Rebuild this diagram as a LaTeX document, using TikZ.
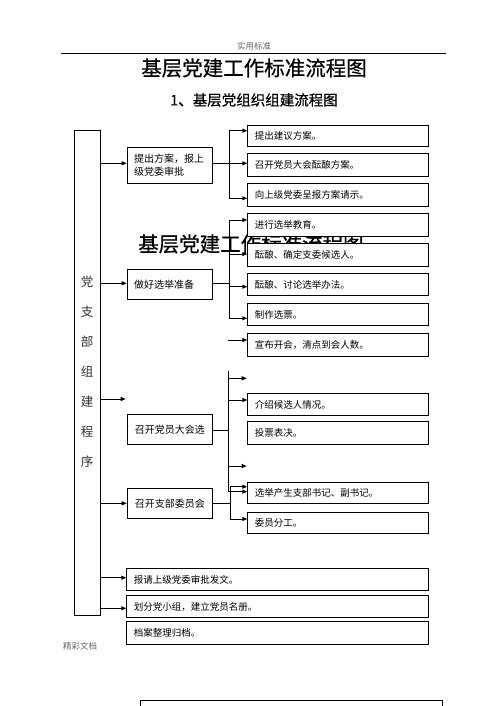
\documentclass[tikz,border=0pt]{standalone}
\usepackage{fontspec}
\setmainfont{Noto Sans CJK SC}
\newfontfamily\titlefont{Noto Sans CJK SC}[FakeBold=0.5]
\usetikzlibrary{arrows.meta}
\begin{document}
\begin{tikzpicture}[x=1pt,y=-1pt,
  box/.style={draw=black,line width=0.9pt,fill=white,anchor=north west,inner xsep=7pt,inner ysep=0pt,align=left,font=\fontsize{9.5}{12}\selectfont},
  mbox/.style={box,font=\fontsize{10}{13.5}\selectfont,minimum width=85.6pt,text width=71.6pt},
  rbox/.style={box,minimum width=181pt,text width=167pt},
  sbox/.style={box,minimum width=302pt,text width=288pt},
  arr/.style={line width=0.9pt,-{Triangle[length=5pt,width=4pt]}},
  ln/.style={line width=0.9pt},
  small/.style={font=\fontsize{8.5}{10}\selectfont,text=black!60}
]
\clip (0,0) rectangle (500,706);
\fill[white] (0,0) rectangle (500,706);
% header
\node[small] (hdr) at (254,46) {实用标准};
\draw[line width=0.8pt] (61,53) -- (446,53);
\node[font=\titlefont\fontsize{20.5}{22}\selectfont] (title) at (254,68) {基层党建工作标准流程图};
\node[font=\titlefont\fontsize{14.5}{16}\selectfont] (sub) at (254,100) {1、基层党组织组建流程图};
% watermark title (behind boxes)
\node[font=\titlefont\fontsize{20.5}{22}\selectfont,anchor=west,inner sep=0pt] (wm) at (138,244) {基层党建工作标准流程图};
% left tall box
\draw[line width=0.9pt] (74,130.7) rectangle (100.5,615);
\node[draw=none,minimum width=26.5pt,minimum height=484.3pt,anchor=north west,inner sep=0pt] (L) at (74,130.7) {};
\foreach \c [count=\i from 0] in {党,支,部,组,建,程,序}
  \node[font=\fontsize{12.5}{14}\selectfont,text=black!80] (lc\i) at (87.2,282+30*\i) {\c};
% middle boxes
\node[mbox,minimum height=36pt] (A) at (126.7,146.7) {提出方案，报上\\级党委审批};
\node[mbox,minimum height=29.7pt] (B) at (126.7,269.3) {做好选举准备};
\node[mbox,minimum height=30pt,align=center] (C) at (126.7,414.3) {召开党员大会选};
\node[mbox,minimum height=30pt,align=center] (D) at (126.7,488.3) {召开支部委员会};
% right boxes
\node[rbox,minimum height=21pt] (r1) at (247.3,125) {提出建议方案。};
\node[rbox,minimum height=22.7pt] (r2) at (247.3,153.3) {召开党员大会酝酿方案。};
\node[rbox,minimum height=22.7pt] (r3) at (247.3,183.3) {向上级党委呈报方案请示。};
\node[rbox,minimum height=22.7pt] (r4) at (247.3,213.3) {进行选举教育。};
\node[rbox,minimum height=22.7pt] (r5) at (247.3,243.3) {酝酿、确定支委候选人。};
\node[rbox,minimum height=21.7pt] (r6) at (247.3,273.3) {酝酿、讨论选举办法。};
\node[rbox,minimum height=21.7pt] (r7) at (247.3,303.3) {制作选票。};
\node[rbox,minimum height=22.7pt] (r8) at (247.3,333.3) {宣布开会，清点到会人数。};
\node[rbox,minimum height=21.7pt] (r9) at (247.3,393.3) {介绍候选人情况。};
\node[rbox,minimum height=23.3pt] (r10) at (247.3,421) {投票表决。};
\node[rbox,minimum height=21.6pt] (r11) at (247.3,481.7) {选举产生支部书记、副书记。};
\node[rbox,minimum height=21.6pt] (r12) at (247.3,511.7) {委员分工。};
% bottom boxes
\node[sbox,minimum height=22pt] (s1) at (126.3,568.3) {报请上级党委审批发文。};
\node[sbox,minimum height=22pt] (s2) at (126.3,595.3) {划分党小组，建立党员名册。};
\node[sbox,minimum height=23pt] (s3) at (126.3,621.3) {档案整理归档。};
\node[small] (foot) at (80,646) {精彩文档};
\draw[line width=0.9pt] (140.3,700) rectangle (442.7,720);
% coordinates for buses and free ends
\coordinate (busA) at (229.3,163.3);
\coordinate (busB) at (229.3,283.3);
\coordinate (busC) at (228,430);
\coordinate (busD) at (230,503.3);
\coordinate (f8) at (228,340);
\coordinate (fL) at (125.7,399);
\coordinate (fc1) at (246.7,378.3);
\coordinate (fc2) at (246.7,466);
% section A
\draw[arr] (L.east |- 0,163.3) -- (A.west |- 0,163.3);
\draw[ln] (A.east |- busA) -- (busA);
\draw[ln] (busA |- 0,130.7) -- (busA |- 0,198.3);
\draw[arr] (busA |- 0,130.7) -- (r1.west |- 0,130.7);
\draw[arr] (busA |- 0,163.3) -- (r2.west |- 0,163.3);
\draw[arr] (busA |- 0,198.3) -- (r3.west |- 0,198.3);
% section B
\draw[arr] (L.east |- 0,283.3) -- (B.west |- 0,283.3);
\draw[ln] (B.east |- busB) -- (busB);
\draw[ln] (busB |- 0,220) -- (busB |- 0,318.3);
\draw[arr] (busB |- 0,220) -- (r4.west |- 0,220);
\draw[arr] (busB |- 0,254) -- (r5.west |- 0,254);
\draw[arr] (busB |- 0,286.7) -- (r6.west |- 0,286.7);
\draw[arr] (busB |- 0,318.3) -- (r7.west |- 0,318.3);
\draw[arr] (f8) -- (r8.west |- f8);
% section C
\draw[arr] (L.east |- fL) -- (fL);
\draw[ln] (C.east |- busC) -- (busC);
\draw[ln] (busC |- 0,370.7) -- (busC |- 0,491.7);
\draw[arr] (busC |- fc1) -- (fc1);
\draw[arr] (busC |- 0,400) -- (r9.west |- 0,400);
\draw[arr] (busC |- fc2) -- (fc2);
\draw[arr] (busC |- 0,491.7) -- (r11.west |- 0,491.7);
% section D
\draw[arr] (L.east |- 0,503.3) -- (D.west |- 0,503.3);
\draw[ln] (D.east |- busD) -- (busD);
\draw[ln] (busD |- 0,486.7) -- (busD |- 0,519);
\draw[arr] (busD |- 0,486.7) -- (r11.west |- 0,486.7);
\draw[arr] (busD |- 0,519) -- (r12.west |- 0,519);
% bottom arrows
\draw[arr] (L.east |- 0,577.7) -- (s1.west |- 0,577.7);
\draw[arr] (L.east |- 0,608.3) -- (s2.west |- 0,608.3);
\end{tikzpicture}
\end{document}
